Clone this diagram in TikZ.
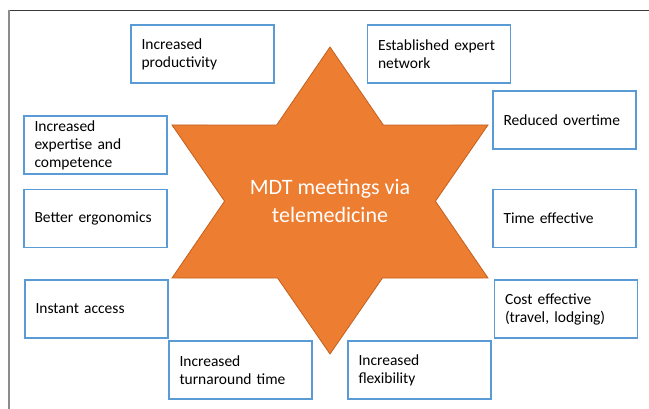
\documentclass[tikz,border=0pt]{standalone}
\usepackage{fontspec}
\setmainfont{Carlito}
\definecolor{boxblue}{HTML}{5B9BD5}
\definecolor{starorange}{HTML}{ED7D31}
\definecolor{staredge}{HTML}{C2611F}
\definecolor{framedark}{HTML}{3A3A3A}
\definecolor{framegray}{HTML}{8C8C8C}

\begin{document}
\begin{tikzpicture}[x=1pt,y=-1pt,
    benefit/.style={draw=boxblue, line width=1.4pt, fill=white, minimum width=143pt,
        minimum height=58pt, text width=122pt, inner sep=0pt, align=left,
        font=\fontsize{15.5}{18}\selectfont},
    startext/.style={text=white, align=center, font=\fontsize{22}{28}\selectfont}]
    \useasboundingbox (0,0) rectangle (649,409);
    % frame
    \draw[framedark, line width=1.2pt] (9,10.5) -- (649,10.5);
    \draw[framegray, line width=1.8pt] (9,10) -- (9,409);
    % star corners
    \coordinate (t) at (330,47);
    \coordinate (bl) at (172,278);
    \coordinate (br) at (488,278);
    \coordinate (b) at (330,354);
    \coordinate (tl) at (172,125);
    \coordinate (tr) at (488,125);
    \draw[staredge, fill=starorange, line width=0.8pt, line join=miter]
        (t) -- (intersection of t--br and tl--tr) -- (tr)
        -- (intersection of tr--b and t--br) -- (br)
        -- (intersection of bl--br and tr--b) -- (b)
        -- (intersection of b--tl and bl--br) -- (bl)
        -- (intersection of bl--t and tl--b) -- (tl)
        -- (intersection of tl--tr and bl--t) -- cycle;
    \node[startext] (mdt) at (330,201) {MDT meetings via\\telemedicine};
    % benefits
    \node[benefit] (prod) at (202.5,54) {Increased\\productivity};
    \node[benefit] (network) at (439,54) {Established expert\\network};
    \node[benefit] (expertise) at (95.5,145) {Increased\\expertise and\\competence};
    \node[benefit] (overtime) at (564.5,120) {Reduced overtime};
    \node[benefit] (ergonomics) at (95.5,218.5) {Better ergonomics};
    \node[benefit] (timeeff) at (564.5,218.5) {Time effective};
    \node[benefit] (access) at (96.5,309) {Instant access};
    \node[benefit] (cost) at (566,309) {Cost effective\\(travel, lodging)};
    \node[benefit] (turnaround) at (240.5,370) {Increased\\turnaround time};
    \node[benefit] (flexibility) at (419.5,370) {Increased\\flexibility};
\end{tikzpicture}
\end{document}
